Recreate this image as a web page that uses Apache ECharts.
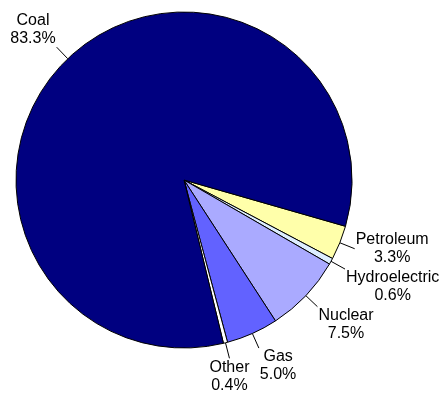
<!DOCTYPE html>
<html>
<head>
<meta charset="utf-8">
<script src="https://cdn.jsdelivr.net/npm/echarts@6/dist/echarts.min.js"></script>
<style>
html,body{margin:0;padding:0;background:#fff;}
#chart{width:442px;height:393px;}
</style>
</head>
<body>
<div id="chart"></div>
<script>
var categories = ["Petroleum", "Hydroelectric", "Nuclear", "Gas", "Other", "Coal"];
var values = [3.3, 0.6, 7.5, 5.0, 0.4, 83.3];
var colors = ["#FFFFAA", "#DDEEFF", "#AAAAFF", "#6262FF", "#FFFFFF", "#000080"];

var data = categories.map(function (c, i) {
  return { name: c, value: values[i], itemStyle: { color: colors[i] } };
});

var chart = echarts.init(document.getElementById('chart'), null, { renderer: 'canvas' });
chart.setOption({
  animation: false,
  backgroundColor: '#ffffff',
  series: [{
    type: 'pie',
    center: [184, 180],
    radius: 168,
    startAngle: -16,
    clockwise: true,
    avoidLabelOverlap: false,
    minShowLabelAngle: 0,
    data: data,
    itemStyle: { borderColor: '#000000', borderWidth: 1 },
    label: {
      show: true,
      position: 'outside',
      alignTo: 'none',
      formatter: function (p) { return p.name + '\n' + p.value.toFixed(1) + '%'; },
      fontFamily: 'Liberation Sans, Arial, sans-serif',
      fontSize: 16,
      lineHeight: 18,
      color: '#000000'
    },
    labelLine: {
      show: true,
      length: 16,
      length2: 0,
      lineStyle: { color: '#000000', width: 1 }
    },
    emphasis: { disabled: true },
    labelLayout: function (p) {
      var pts = p.labelLinePoints;
      if (!pts) return { hideOverlap: false };
      var a = pts[0], e = pts[1];
      var dx = e[0] - a[0], dy = e[1] - a[1];
      var L = Math.sqrt(dx * dx + dy * dy) || 1;
      dx /= L; dy /= L;
      var w = p.labelRect.width, h = p.labelRect.height;
      var sx = Math.abs(dx) > 0.39 ? (dx > 0 ? 1 : -1) : 0;
      var sy = Math.abs(dy) > 0.39 ? (dy > 0 ? 1 : -1) : 0;
      return {
        x: e[0] + sx * (w / 2 + 1),
        y: e[1] + sy * (h / 2),
        align: 'center',
        verticalAlign: 'middle',
        hideOverlap: false,
        labelLinePoints: pts
      };
    }
  }]
});
</script>
</body>
</html>
